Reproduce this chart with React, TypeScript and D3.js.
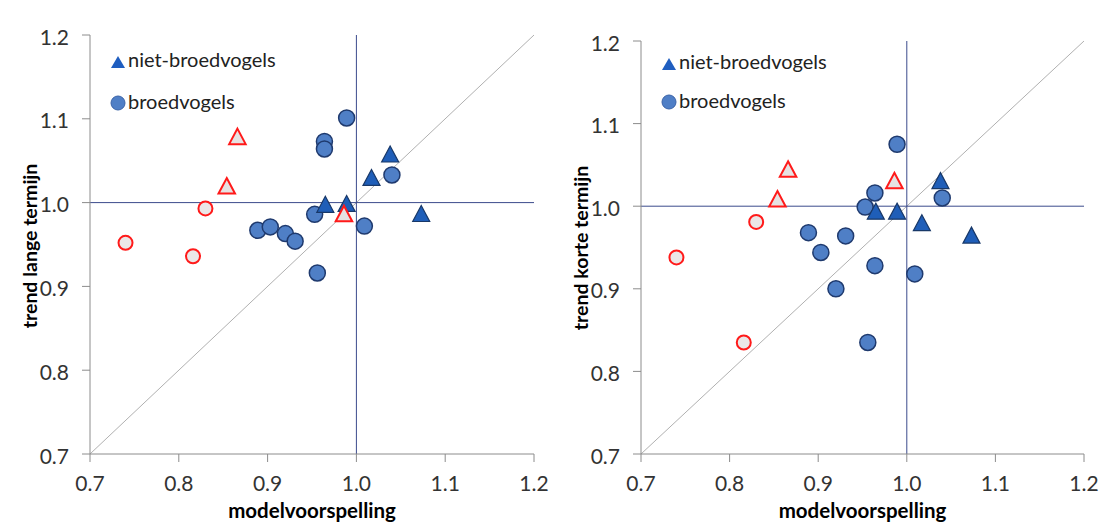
import React from "react";
import * as d3 from "d3";

// Model prediction (x) and observed trend (y) per species group.
const broedX = [0.989, 0.964, 0.964, 1.04, 0.953, 1.009, 0.889, 0.903, 0.92, 0.931, 0.956];
const broedLang = [1.101, 1.073, 1.064, 1.033, 0.986, 0.972, 0.967, 0.971, 0.963, 0.954, 0.916];
const broedKort = [1.075, 1.016, 0.928, 1.01, 0.999, 0.918, 0.968, 0.944, 0.9, 0.964, 0.835];

const nietX = [1.038, 1.017, 0.965, 0.989, 1.073];
const nietLang = [1.058, 1.03, 0.998, 0.999, 0.987];
const nietKort = [1.031, 0.98, 0.994, 0.994, 0.965];

// Species that deviate from the model (drawn in red, open markers).
const afwTriX = [0.866, 0.854, 0.986];
const afwTriLang = [1.079, 1.02, 0.987];
const afwTriKort = [1.045, 1.009, 1.031];

const afwCircX = [0.74, 0.816, 0.83];
const afwCircLang = [0.952, 0.936, 0.993];
const afwCircKort = [0.938, 0.835, 0.981];

const ticks = [0.7, 0.8, 0.9, 1.0, 1.1, 1.2];
const domain: [number, number] = [0.7, 1.2];

const legendLabels = ["niet-broedvogels", "broedvogels"];
const xTitle = "modelvoorspelling";

const FONT = "Lato, 'Open Sans', sans-serif";

type Panel = {
  title: string;
  left: number;
  right: number;
  top: number;
  bottom: number;
  titleX: number;
  titleY: number;
  legendTri: number;
  legendCirc: number;
  broedY: number[];
  nietY: number[];
  afwTriY: number[];
  afwCircY: number[];
};

const panels: Panel[] = [
  {
    title: "trend lange termijn",
    left: 90,
    right: 534,
    top: 35,
    bottom: 454,
    titleX: 37,
    titleY: 246,
    legendTri: 62,
    legendCirc: 103,
    broedY: broedLang,
    nietY: nietLang,
    afwTriY: afwTriLang,
    afwCircY: afwCircLang,
  },
  {
    title: "trend korte termijn",
    left: 641,
    right: 1084,
    top: 41,
    bottom: 454,
    titleX: 588,
    titleY: 248,
    legendTri: 64,
    legendCirc: 102,
    broedY: broedKort,
    nietY: nietKort,
    afwTriY: afwTriKort,
    afwCircY: afwCircKort,
  },
];

const tri = (w: number, h: number) =>
  `M0,${-h / 2}L${w / 2},${h / 2}L${-w / 2},${h / 2}Z`;

function Scatter({ p }: { p: Panel }) {
  const x = d3.scaleLinear().domain(domain).range([p.left, p.right]);
  const y = d3.scaleLinear().domain(domain).range([p.bottom, p.top]);
  const fmt = d3.format(".1f");
  const cx = (p.left + p.right) / 2;

  return (
    <g>
      {/* diagonal 1:1 line */}
      <line x1={x(0.7)} y1={y(0.7)} x2={x(1.2)} y2={y(1.2)} stroke="#b0b0b0" strokeWidth={1} />
      {/* reference lines at 1.0 */}
      <line x1={x(1)} x2={x(1)} y1={y(0.7)} y2={y(1.2)} stroke="#3b4a8c" strokeWidth={1} />
      <line x1={x(0.7)} x2={x(1.2)} y1={y(1)} y2={y(1)} stroke="#3b4a8c" strokeWidth={1} />

      {/* axes */}
      <line x1={x(0.7)} x2={x(0.7)} y1={y(0.7)} y2={y(1.2)} stroke="#8c8c8c" />
      <line x1={x(0.7)} x2={x(1.2)} y1={y(0.7)} y2={y(0.7)} stroke="#8c8c8c" />
      {ticks.map((t) => (
        <g key={"y" + t}>
          <line x1={x(0.7) - 8} x2={x(0.7)} y1={y(t)} y2={y(t)} stroke="#8c8c8c" />
          <text
            x={x(0.7) - 21}
            y={y(t) + 1}
            textAnchor="end"
            dominantBaseline="central"
            fontFamily={FONT}
            fontSize={21}
            fill="#333"
          >
            {fmt(t)}
          </text>
        </g>
      ))}
      {ticks.map((t) => (
        <g key={"x" + t}>
          <line x1={x(t)} x2={x(t)} y1={y(0.7)} y2={y(0.7) + 8} stroke="#8c8c8c" />
          <text x={x(t)} y={491} textAnchor="middle" fontFamily={FONT} fontSize={21} fill="#333">
            {fmt(t)}
          </text>
        </g>
      ))}

      {/* axis titles */}
      <text x={cx} y={518} textAnchor="middle" fontFamily={FONT} fontSize={20.5} fontWeight="bold" fill="#000">
        {xTitle}
      </text>
      <text
        transform={`translate(${p.titleX},${p.titleY}) rotate(-90)`}
        textAnchor="middle"
        fontFamily={FONT}
        fontSize={19.5}
        fontWeight="bold"
        fill="#000"
      >
        {p.title}
      </text>

      {/* breeding birds */}
      {broedX.map((v, i) => (
        <circle
          key={"b" + i}
          cx={x(v)}
          cy={y(p.broedY[i])}
          r={8}
          fill="#4f7fc6"
          stroke="#1f3a6e"
          strokeWidth={1.5}
        />
      ))}
      {/* non-breeding birds */}
      {nietX.map((v, i) => (
        <path
          key={"n" + i}
          transform={`translate(${x(v)},${y(p.nietY[i])})`}
          d={tri(17, 16)}
          fill="#1f5eb8"
          stroke="#183868"
          strokeWidth={1.2}
        />
      ))}
      {/* deviating species */}
      {afwCircX.map((v, i) => (
        <circle
          key={"rc" + i}
          cx={x(v)}
          cy={y(p.afwCircY[i])}
          r={7}
          fill="#ebe7e7"
          stroke="#ff1a1a"
          strokeWidth={2}
        />
      ))}
      {afwTriX.map((v, i) => (
        <path
          key={"rt" + i}
          transform={`translate(${x(v)},${y(p.afwTriY[i])})`}
          d={tri(16.5, 15.5)}
          fill="#e6e2e2"
          stroke="#ff1a1a"
          strokeWidth={2}
          strokeLinejoin="miter"
        />
      ))}

      {/* legend */}
      <path transform={`translate(${p.left + 28},${p.legendTri})`} d={tri(14, 12)} fill="#1f5ec0" />
      <text x={p.left + 38} y={p.legendTri + 5} fontFamily={FONT} fontSize={20} fill="#222">
        {legendLabels[0]}
      </text>
      <circle cx={p.left + 28} cy={p.legendCirc} r={7} fill="#4f7fc6" stroke="#3a63a8" strokeWidth={1} />
      <text x={p.left + 38} y={p.legendCirc + 6} fontFamily={FONT} fontSize={20} fill="#222">
        {legendLabels[1]}
      </text>
    </g>
  );
}

export default function App() {
  return (
    <svg
      width={1102}
      height={522}
      style={{ position: "absolute", left: 0, top: 0, background: "#fff" }}
    >
      <rect width={1102} height={522} fill="#fff" />
      {panels.map((p, i) => (
        <Scatter key={i} p={p} />
      ))}
    </svg>
  );
}
